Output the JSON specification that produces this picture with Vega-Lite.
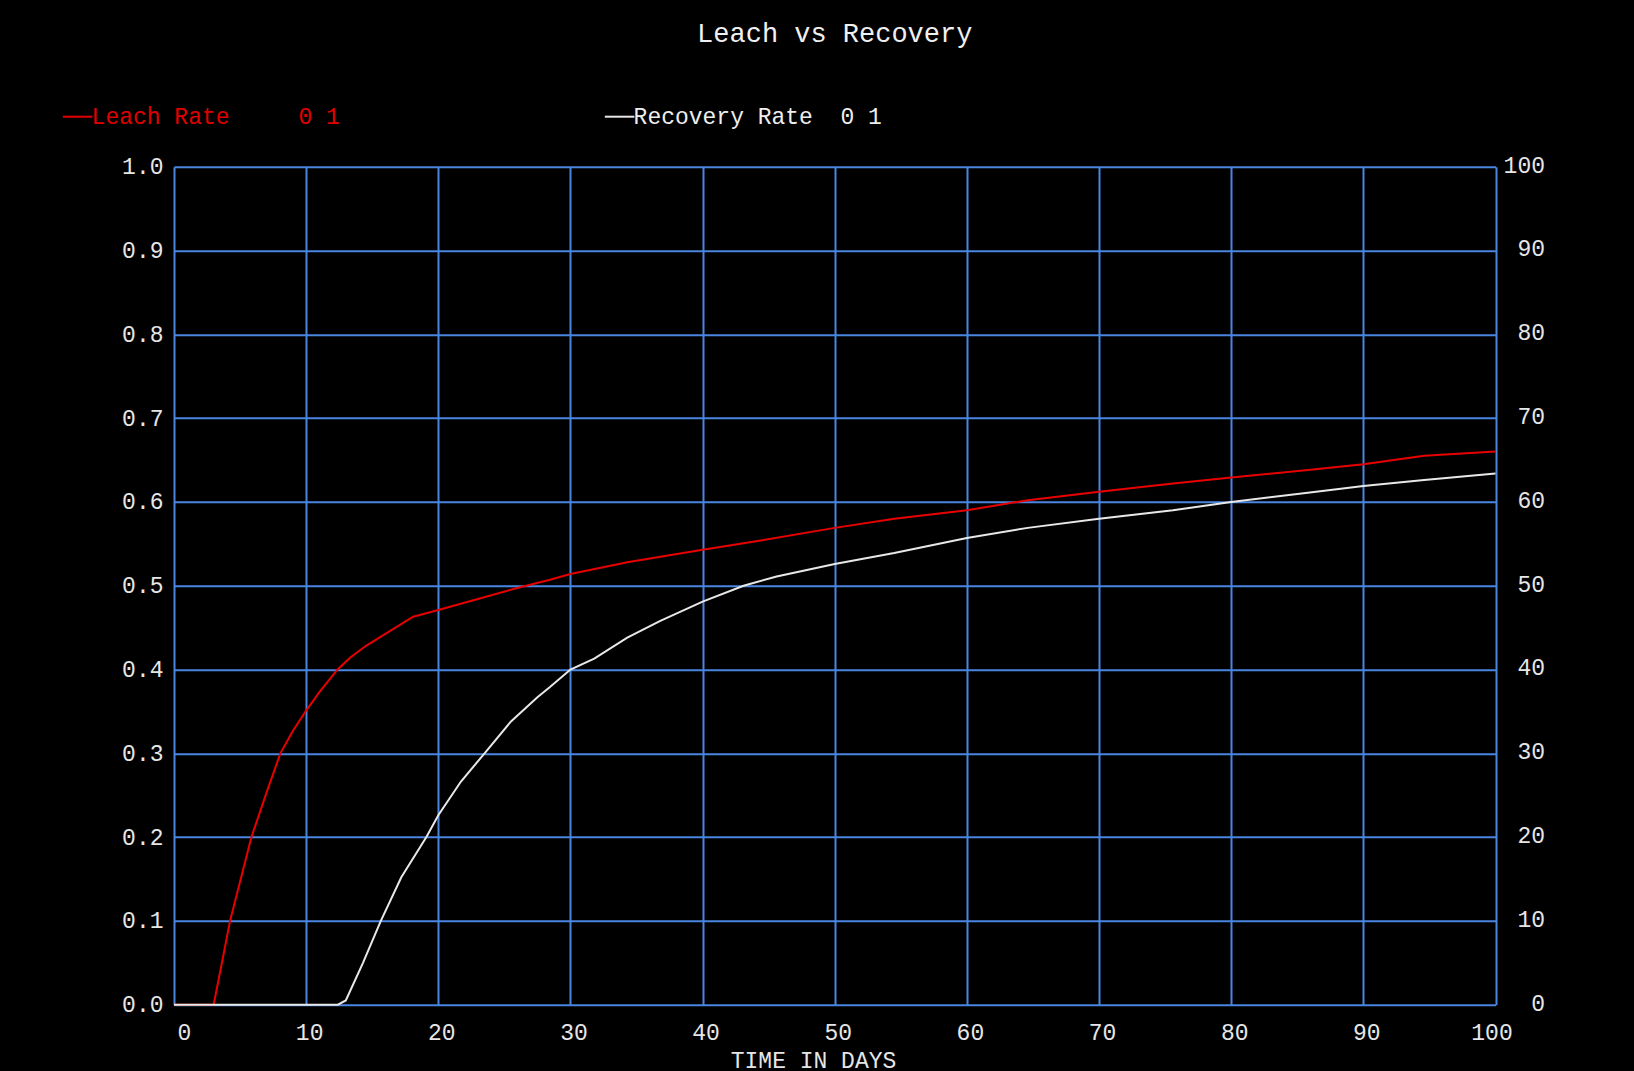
{
  "$schema": "https://vega.github.io/schema/vega-lite/v6.json",
  "width": 1321.5,
  "height": 838,
  "autosize": {"type": "none"},
  "padding": {"left": 174, "top": 166.7, "right": 138.5, "bottom": 66.4},
  "background": "#000000",
  "config": {"view": {"stroke": null}, "font": "Liberation Mono"},
  "title": {
    "text": "Leach vs Recovery",
    "font": "Liberation Mono",
    "fontSize": 27,
    "fontWeight": "normal",
    "color": "#f0f0f0",
    "anchor": "middle",
    "offset": 53
  },
  "data": {
    "values": [
      {"series": "Leach Rate", "day": 0, "rate": 0},
      {"series": "Leach Rate", "day": 3.0, "rate": 0},
      {"series": "Leach Rate", "day": 3.6, "rate": 0.048},
      {"series": "Leach Rate", "day": 4.24, "rate": 0.1},
      {"series": "Leach Rate", "day": 5.05, "rate": 0.15},
      {"series": "Leach Rate", "day": 5.86, "rate": 0.2},
      {"series": "Leach Rate", "day": 7.0, "rate": 0.253},
      {"series": "Leach Rate", "day": 8.05, "rate": 0.3},
      {"series": "Leach Rate", "day": 9.0, "rate": 0.327},
      {"series": "Leach Rate", "day": 10, "rate": 0.351},
      {"series": "Leach Rate", "day": 11, "rate": 0.373},
      {"series": "Leach Rate", "day": 12.38, "rate": 0.4},
      {"series": "Leach Rate", "day": 13.32, "rate": 0.414},
      {"series": "Leach Rate", "day": 14.5, "rate": 0.428},
      {"series": "Leach Rate", "day": 15.84, "rate": 0.441},
      {"series": "Leach Rate", "day": 18.1, "rate": 0.463},
      {"series": "Leach Rate", "day": 20, "rate": 0.471},
      {"series": "Leach Rate", "day": 23.4, "rate": 0.486},
      {"series": "Leach Rate", "day": 25.9, "rate": 0.497},
      {"series": "Leach Rate", "day": 28.45, "rate": 0.507},
      {"series": "Leach Rate", "day": 30, "rate": 0.514},
      {"series": "Leach Rate", "day": 34.3, "rate": 0.528},
      {"series": "Leach Rate", "day": 40, "rate": 0.543},
      {"series": "Leach Rate", "day": 44.4, "rate": 0.554},
      {"series": "Leach Rate", "day": 50, "rate": 0.569},
      {"series": "Leach Rate", "day": 54.5, "rate": 0.58},
      {"series": "Leach Rate", "day": 60, "rate": 0.59},
      {"series": "Leach Rate", "day": 64.6, "rate": 0.602},
      {"series": "Leach Rate", "day": 70, "rate": 0.612},
      {"series": "Leach Rate", "day": 75.6, "rate": 0.622},
      {"series": "Leach Rate", "day": 80, "rate": 0.629},
      {"series": "Leach Rate", "day": 85.8, "rate": 0.638},
      {"series": "Leach Rate", "day": 90, "rate": 0.645},
      {"series": "Leach Rate", "day": 94.6, "rate": 0.655},
      {"series": "Leach Rate", "day": 100, "rate": 0.66},
      {"series": "Recovery Rate", "day": 0, "rate": 0},
      {"series": "Recovery Rate", "day": 12.4, "rate": 0},
      {"series": "Recovery Rate", "day": 13.0, "rate": 0.005},
      {"series": "Recovery Rate", "day": 14.3, "rate": 0.05},
      {"series": "Recovery Rate", "day": 15.65, "rate": 0.1},
      {"series": "Recovery Rate", "day": 17.2, "rate": 0.152},
      {"series": "Recovery Rate", "day": 19.1, "rate": 0.2},
      {"series": "Recovery Rate", "day": 20, "rate": 0.226},
      {"series": "Recovery Rate", "day": 21.7, "rate": 0.266},
      {"series": "Recovery Rate", "day": 23.5, "rate": 0.3},
      {"series": "Recovery Rate", "day": 25.5, "rate": 0.338},
      {"series": "Recovery Rate", "day": 27.5, "rate": 0.367},
      {"series": "Recovery Rate", "day": 28.45, "rate": 0.379},
      {"series": "Recovery Rate", "day": 30, "rate": 0.4},
      {"series": "Recovery Rate", "day": 31.8, "rate": 0.413},
      {"series": "Recovery Rate", "day": 34.3, "rate": 0.438},
      {"series": "Recovery Rate", "day": 36.8, "rate": 0.458},
      {"series": "Recovery Rate", "day": 40, "rate": 0.481},
      {"series": "Recovery Rate", "day": 43.1, "rate": 0.5},
      {"series": "Recovery Rate", "day": 45.6, "rate": 0.511},
      {"series": "Recovery Rate", "day": 50, "rate": 0.526},
      {"series": "Recovery Rate", "day": 54.5, "rate": 0.539},
      {"series": "Recovery Rate", "day": 60, "rate": 0.557},
      {"series": "Recovery Rate", "day": 64.6, "rate": 0.569},
      {"series": "Recovery Rate", "day": 70, "rate": 0.58},
      {"series": "Recovery Rate", "day": 75.6, "rate": 0.59},
      {"series": "Recovery Rate", "day": 80, "rate": 0.6},
      {"series": "Recovery Rate", "day": 85.8, "rate": 0.611},
      {"series": "Recovery Rate", "day": 90, "rate": 0.619},
      {"series": "Recovery Rate", "day": 94.6, "rate": 0.626},
      {"series": "Recovery Rate", "day": 100, "rate": 0.634}
    ]
  },
  "layer": [
    {
      "mark": {"type": "line", "strokeWidth": 2},
      "encoding": {
        "x": {
          "field": "day",
          "type": "quantitative",
          "scale": {"domain": [0, 100], "nice": false, "zero": false},
          "axis": {
            "values": [0, 10, 20, 30, 40, 50, 60, 70, 80, 90, 100],
            "grid": true,
            "gridColor": "#4a86e0",
            "gridWidth": 2,
            "gridOpacity": 1,
            "domain": false,
            "ticks": false,
            "labelFont": "Liberation Mono",
            "labelFontSize": 23,
            "labelColor": "#e6e6e6",
            "labelBaseline": "middle",
            "labelPadding": 28,
            "labelFlush": false,
            "labelOffset": {"expr": "datum.value == 0 ? 10 : (datum.value == 100 ? -4 : 3)"},
            "title": "TIME IN DAYS",
            "titleFont": "Liberation Mono",
            "titleFontSize": 23,
            "titleFontWeight": "normal",
            "titleColor": "#e6e6e6",
            "titleX": 639,
            "titleY": 56,
            "titleAlign": "center",
            "titleBaseline": "middle"
          }
        },
        "y": {
          "field": "rate",
          "type": "quantitative",
          "scale": {"domain": [0, 1], "nice": false},
          "axis": {
            "orient": "left",
            "values": [0, 0.1, 0.2, 0.3, 0.4, 0.5, 0.6, 0.7, 0.8, 0.9, 1],
            "format": ".1f",
            "grid": true,
            "gridColor": "#4a86e0",
            "gridWidth": 2,
            "gridOpacity": 1,
            "domain": false,
            "ticks": false,
            "labelFont": "Liberation Mono",
            "labelFontSize": 23,
            "labelColor": "#e6e6e6",
            "labelPadding": 11,
            "title": null
          }
        },
        "color": {
          "field": "series",
          "type": "nominal",
          "scale": {"domain": ["Leach Rate", "Recovery Rate"], "range": ["#e80000", "#e8e8e8"]},
          "legend": {
            "orient": "none",
            "legendX": -112.4,
            "legendY": -66,
            "direction": "horizontal",
            "title": null,
            "padding": 0,
            "symbolType": "stroke",
            "symbolSize": 870,
            "symbolStrokeWidth": 2,
            "labelOffset": -2,
            "labelFont": "Liberation Mono",
            "labelFontSize": 23,
            "labelLimit": 1000,
            "labelColor": {"expr": "datum.value == 'Leach Rate' ? '#e00000' : '#eeeeee'"},
            "labelExpr": "datum.value == 'Leach Rate' ? 'Leach Rate\u00a0\u00a0\u00a0\u00a0\u00a00 1' : 'Recovery Rate\u00a0\u00a00 1'",
            "columnPadding": 260
          }
        }
      }
    },
    {
      "mark": {"type": "line", "opacity": 0, "strokeOpacity": 0},
      "encoding": {
        "x": {"field": "day", "type": "quantitative", "scale": {"domain": [0, 100], "nice": false, "zero": false}},
        "y": {
          "field": "rate",
          "type": "quantitative",
          "scale": {"domain": [0, 1], "nice": false},
          "axis": {
            "orient": "right",
            "values": [0, 0.1, 0.2, 0.3, 0.4, 0.5, 0.6, 0.7, 0.8, 0.9, 1],
            "labelExpr": "format(datum.value * 100, 'd')",
            "grid": false,
            "domain": false,
            "ticks": false,
            "labelFont": "Liberation Mono",
            "labelFontSize": 23,
            "labelColor": "#e6e6e6",
            "labelAlign": "right",
            "labelPadding": 49,
            "labelOffset": -1.5,
            "title": null
          }
        },
        "detail": {"field": "series", "type": "nominal"}
      }
    }
  ],
  "resolve": {"scale": {"y": "independent"}}
}
